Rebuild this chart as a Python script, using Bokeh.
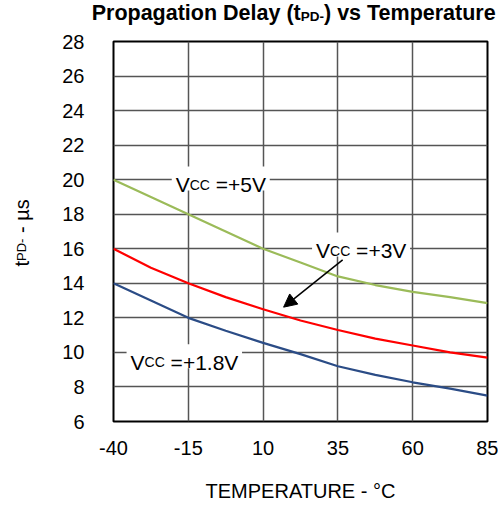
from bokeh.plotting import figure
from bokeh.models import (Range1d, FixedTicker, Label, Arrow, NormalHead,
                          BoxAnnotation, Div)
from bokeh.layouts import column
from bokeh.embed import file_html
from bokeh.resources import INLINE
import math

# ---------------- data ----------------
temps = [-40, -27.5, -15, -2.5, 10, 22.5, 35, 47.5, 60, 72.5, 85]
tpd_5v = [20.0, 19.0, 18.0, 17.0, 16.0, 15.2, 14.4, 13.9, 13.5, 13.2, 12.85]
tpd_3v = [16.0, 14.9, 14.0, 13.2, 12.5, 11.85, 11.3, 10.8, 10.4, 10.0, 9.7]
tpd_1v8 = [14.0, 13.0, 12.0, 11.25, 10.55, 9.9, 9.2, 8.7, 8.27, 7.9, 7.5]
x_ticks = [-40, -15, 10, 35, 60, 85]
y_ticks = [6, 8, 10, 12, 14, 16, 18, 20, 22, 24, 26, 28]
x_tick_labels = ["-40", "-15", "10", "35", "60", "85"]
title_parts = ("Propagation Delay (t", "PD-", ") vs Temperature")
x_label = "TEMPERATURE - °C"
y_label = ("t", "PD-", "- µs")
vcc_texts = ["=+5V", "=+3V", "=+1.8V"]

FONT = "Liberation Sans"
X_LO, X_HI, Y_LO, Y_HI = -40, 85, 6, 28
W = 498
TITLE_H = 29
H = 480                         # figure height (below the title div)
FL, FR, FT, FB = 112, 487, 12, 392  # frame in figure-canvas px

# Arial-compatible advance widths (per 1000 em)
REG = {' ': 278, '(': 333, ')': 333, '-': 333, '+': 584, '=': 584, '.': 278,
       '0': 556, '1': 556, '2': 556, '3': 556, '5': 556, '8': 556,
       'V': 667, 'C': 722, 'T': 611, 'E': 667, 'M': 833, 'P': 667,
       'R': 722, 'A': 667, 'U': 722, 'D': 722, '°': 400, 'µ': 576,
       't': 278, 's': 500}
BOLD = {'P': 667, 'r': 389, 'o': 611, 'p': 611, 'a': 556, 'g': 611,
        't': 333, 'i': 278, 'n': 611, ' ': 278, 'D': 722, 'e': 556,
        'l': 278, 'y': 556, '(': 333, ')': 333, 'v': 556, 's': 556,
        'T': 611, 'm': 889, 'u': 611, '-': 333}


def tw(s, size, bold=False):
    tbl = BOLD if bold else REG
    return sum(tbl.get(c, 556) for c in s) / 1000.0 * size


PX_X = (X_HI - X_LO) / (FR - FL)  # data units per px
PX_Y = (Y_HI - Y_LO) / (FB - FT)

# ---------------- title (HTML, with subscript) ----------------
T_SZ, T_SUB = 21.5, 13.5
t_w = tw(title_parts[0], T_SZ, True) + tw(title_parts[1], T_SUB, True) + \
    tw(title_parts[2], T_SZ, True)
t_left = 294.5 - t_w / 2
title_html = (
    f'<div style="position:relative;width:{W}px;height:{TITLE_H}px;'
    f'font-family:\'{FONT}\';color:black;white-space:nowrap;">'
    f'<span style="position:absolute;left:{t_left:.1f}px;top:1px;'
    f'font-size:{T_SZ}px;font-weight:bold;line-height:25px;">'
    f'{title_parts[0]}<span style="font-size:{T_SUB}px;position:relative;'
    f'top:1px;">{title_parts[1]}</span>{title_parts[2]}</span></div>')
title_div = Div(text=title_html, width=W, height=TITLE_H, margin=0)

# ---------------- figure ----------------
p = figure(width=W, height=H, output_backend="svg", toolbar_location=None,
           x_range=Range1d(X_LO, X_HI), y_range=Range1d(Y_LO, Y_HI),
           min_border_left=FL, min_border_right=W - FR,
           min_border_top=FT, min_border_bottom=H - FB, margin=0)
p.background_fill_color = "white"
p.border_fill_color = "white"
p.outline_line_color = "black"
p.outline_line_width = 2

p.xaxis.ticker = FixedTicker(ticks=x_ticks)
p.yaxis.ticker = FixedTicker(ticks=y_ticks)
p.xaxis.major_label_overrides = dict(zip(x_ticks, x_tick_labels))
for ax in (p.xaxis, p.yaxis):
    ax.axis_line_color = None
    ax.major_tick_line_color = None
    ax.minor_tick_line_color = None
    ax.major_tick_out = 0
    ax.major_tick_in = 0
    ax.major_label_text_font = FONT
    ax.major_label_text_font_size = "20px"
    ax.major_label_text_color = "black"
p.yaxis.major_label_standoff = 29
p.xaxis.major_label_standoff = 19
p.xaxis.axis_label = x_label
p.xaxis.axis_label_text_font = FONT
p.xaxis.axis_label_text_font_size = "20px"
p.xaxis.axis_label_text_font_style = "normal"
p.xaxis.axis_label_text_color = "black"
p.xaxis.axis_label_standoff = 22

p.xgrid.ticker = FixedTicker(ticks=x_ticks)
p.ygrid.ticker = FixedTicker(ticks=y_ticks)
for g in (p.xgrid, p.ygrid):
    g.grid_line_color = "#555555"
    g.grid_line_width = 1.5

p.line(temps, tpd_5v, line_color="#9BBB59", line_width=2.2)
p.line(temps, tpd_3v, line_color="#FF0000", line_width=2.2)
p.line(temps, tpd_1v8, line_color="#2B4C86", line_width=2.2)


def make_label(x, y, text, size, bold=False, x_offset=0, angle=0,
               units="data"):
    return Label(x=x, y=y, text=text, x_offset=x_offset, angle=angle,
                 x_units=units, y_units=units,
                 text_font=FONT, text_font_size=f"{size}px",
                 text_font_style="bold" if bold else "normal",
                 text_color="black", text_align="left",
                 text_baseline="alphabetic")


def vcc_label(x0, base_y, rest, box_top_px=18, box_bot_px=6):
    sp = tw(" ", 21)
    pieces = [("V", 21, 0), ("CC", 14, 0), (rest, 21, sp)]
    total = sum(tw(s, sz) + g for s, sz, g in pieces)
    pad = 4
    p.add_layout(BoxAnnotation(left=x0 - pad * PX_X,
                               right=x0 + (total + pad) * PX_X,
                               bottom=base_y - box_bot_px * PX_Y,
                               top=base_y + box_top_px * PX_Y,
                               fill_color="white", fill_alpha=1.0,
                               line_color=None))
    off = 0
    for s, sz, gap in pieces:
        off += gap
        p.add_layout(make_label(x0, base_y, s, sz, x_offset=off))
        off += tw(s, sz)


vcc_label(-19.2, 19.72, vcc_texts[0])
vcc_label(27.7, 15.90, vcc_texts[1])
vcc_label(-34.3, 9.43, vcc_texts[2])

p.add_layout(Arrow(x_start=36.6, y_start=15.36, x_end=16.85, y_end=12.62,
                   line_color="black", line_width=1.5,
                   end=NormalHead(size=13, fill_color="black",
                                  line_color="black")))

# y axis label (rotated pieces), canvas px, in the left side panel
cy = 266 - TITLE_H
for i, s in enumerate(y_label):
    sz = 13 if i == 1 else 20
    if i == 2:
        cy -= tw(" ", 20)
    p.add_layout(make_label(21, cy, s, sz, angle=math.pi / 2,
                            units="canvas"), "left")
    cy -= tw(s, sz)

layout = column(title_div, p, spacing=0)
open("out.html", "w").write(file_html(layout, INLINE))
